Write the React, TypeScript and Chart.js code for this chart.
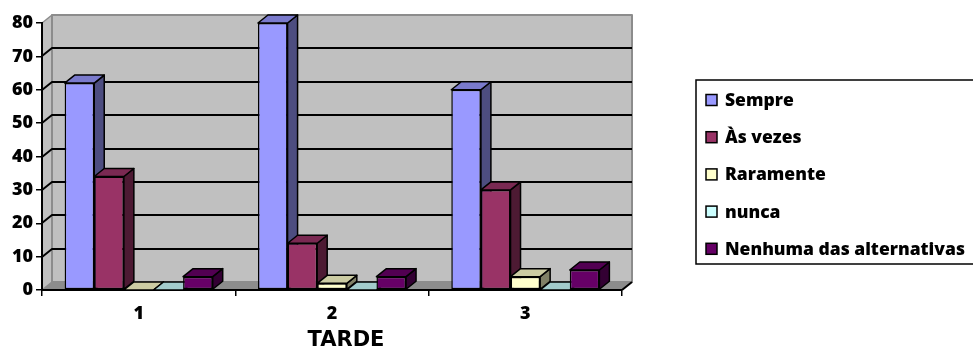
import React, { useEffect, useRef } from 'react';
import { Chart, registerables } from 'chart.js';

Chart.register(...registerables);

// Categories along the horizontal axis
const categories = ['1', '2', '3'];

// Series (percent of answers per group)
const seriesNames = ['Sempre', 'Às vezes', 'Raramente', 'nunca', 'Nenhuma das alternativas'];
const sempre = [62, 80, 60];
const asVezes = [34, 14, 30];
const raramente = [0, 2, 4];
const nunca = [0, 0, 0];
const nenhuma = [4, 4, 6];
const seriesColors = ['#9999FF', '#993366', '#FFFFCC', '#CCFFFF', '#660066'];

// Value axis
const yMin = 0;
const yMax = 80;
const yStep = 10;
const axisTitle = 'TARDE';

// Depth of the pseudo-3D box and columns
const DX = 10;
const DY = 8;

const LABEL_FONT = '"Open Sans", "Noto Sans", sans-serif';

function shade(hex: string, f: number): string {
  const n = parseInt(hex.slice(1), 16);
  const r = Math.round(((n >> 16) & 255) * f);
  const g = Math.round(((n >> 8) & 255) * f);
  const b = Math.round((n & 255) * f);
  return `rgb(${r},${g},${b})`;
}

function poly(ctx: CanvasRenderingContext2D, pts: number[][], fill: string | null, stroke: string | null, lw = 1.5) {
  ctx.beginPath();
  ctx.moveTo(pts[0][0], pts[0][1]);
  for (let i = 1; i < pts.length; i++) ctx.lineTo(pts[i][0], pts[i][1]);
  ctx.closePath();
  if (fill) {
    ctx.fillStyle = fill;
    ctx.fill();
  }
  if (stroke) {
    ctx.strokeStyle = stroke;
    ctx.lineWidth = lw;
    ctx.lineJoin = 'round';
    ctx.stroke();
  }
}

const boxPlugin = {
  id: 'box3d',
  beforeDraw(chart: any) {
    const { ctx, chartArea: a, scales } = chart;
    const y = scales.y;
    ctx.save();
    // back wall
    ctx.fillStyle = '#C0C0C0';
    ctx.fillRect(a.left + DX, a.top - DY, a.right - a.left, a.bottom - a.top);
    // left side wall
    poly(ctx, [[a.left, a.top], [a.left + DX, a.top - DY], [a.left + DX, a.bottom - DY], [a.left, a.bottom]], '#C0C0C0', '#8C8C8C', 1.5);
    // floor
    poly(ctx, [[a.left, a.bottom], [a.left + DX, a.bottom - DY], [a.right + DX, a.bottom - DY], [a.right, a.bottom]], '#8C8C8C', null);
    // back wall outline
    ctx.strokeStyle = '#8C8C8C';
    ctx.lineWidth = 2;
    ctx.strokeRect(a.left + DX, a.top - DY, a.right - a.left, a.bottom - a.top);
    // gridlines on the walls
    ctx.strokeStyle = '#000';
    ctx.lineWidth = 2;
    y.ticks.forEach((t: any) => {
      if (t.value <= yMin || t.value >= yMax) return;
      const py = Math.round(y.getPixelForValue(t.value));
      ctx.beginPath();
      ctx.moveTo(a.left, py);
      ctx.lineTo(a.left + DX, py - DY);
      ctx.lineTo(a.right + DX, py - DY);
      ctx.stroke();
    });
    // right edge of the floor
    ctx.beginPath();
    ctx.moveTo(a.right, a.bottom);
    ctx.lineTo(a.right + DX, a.bottom - DY);
    ctx.strokeStyle = '#000';
    ctx.lineWidth = 2;
    ctx.stroke();
    ctx.restore();
  },
  beforeDatasetsDraw(chart: any) {
    const ctx = chart.ctx;
    const n = chart.data.labels.length;
    ctx.save();
    for (let i = 0; i < n; i++) {
      chart.data.datasets.forEach((ds: any, d: number) => {
        const meta = chart.getDatasetMeta(d);
        if (meta.hidden) return;
        const bar = meta.data[i];
        const { x, y, base, width } = bar.getProps(['x', 'y', 'base', 'width'], true);
        const l = x - width / 2;
        const r = x + width / 2;
        const c = ds.backgroundColor as string;
        poly(ctx, [[r, y], [r + DX, y - DY], [r + DX, base - DY], [r, base]], shade(c, 0.5), '#000');
        poly(ctx, [[l, y], [l + DX, y - DY], [r + DX, y - DY], [r, y]], shade(c, 0.8), '#000');
        bar.draw(ctx, chart.chartArea);
      });
    }
    ctx.restore();
    return false;
  },
  afterDraw(chart: any) {
    const { ctx, chartArea: a } = chart;
    ctx.save();
    // axis title
    ctx.fillStyle = '#000';
    ctx.font = 'bold 21px "DejaVu Sans", sans-serif';
    ctx.textAlign = 'center';
    ctx.textBaseline = 'middle';
    ctx.fillText(axisTitle, (a.left + a.right) / 2 + 14, a.bottom + 51);
    // legend
    const lx = a.right + 74;
    const ly = 80;
    ctx.strokeStyle = '#000';
    ctx.lineWidth = 1.5;
    ctx.strokeRect(lx, ly, 300, 184);
    ctx.font = `800 17.5px ${LABEL_FONT}`;
    ctx.textAlign = 'left';
    chart.data.datasets.forEach((ds: any, i: number) => {
      const cy = ly + 20 + i * 37.2;
      ctx.fillStyle = ds.backgroundColor;
      ctx.fillRect(lx + 10, cy - 5.5, 11, 11);
      ctx.strokeStyle = '#000';
      ctx.lineWidth = 1.5;
      ctx.strokeRect(lx + 10, cy - 5.5, 11, 11);
      ctx.fillStyle = '#000';
      ctx.fillText(ds.label, lx + 29, cy + 1);
    });
    ctx.restore();
  },
};

export default function App() {
  const ref = useRef<HTMLCanvasElement | null>(null);

  useEffect(() => {
    if (!ref.current) return;
    const values = [sempre, asVezes, raramente, nunca, nenhuma];
    const tickFont = { family: LABEL_FONT, weight: 800, size: 18 };
    const chart = new Chart(ref.current, {
      type: 'bar',
      data: {
        labels: categories,
        datasets: seriesNames.map((name, i) => ({
          label: name,
          data: values[i],
          backgroundColor: seriesColors[i],
          borderColor: '#000',
          borderWidth: 1.5,
          borderSkipped: false,
          categoryPercentage: 0.766,
          barPercentage: 1,
        })),
      },
      options: {
        responsive: false,
        animation: false,
        layout: { padding: { top: 23, right: 351, left: 0, bottom: 0 } },
        plugins: { legend: { display: false }, tooltip: { enabled: false } },
        scales: {
          x: {
            grid: { display: true, drawOnChartArea: false, drawTicks: true, tickLength: 6, color: '#000', lineWidth: 1.5, offset: true },
            border: { display: true, color: '#000', width: 2 },
            ticks: { font: tickFont, color: '#000', padding: 7 },
            afterFit: (s: any) => { s.height = 61; },
          },
          y: {
            min: yMin,
            max: yMax,
            grid: { display: true, drawOnChartArea: false, drawTicks: true, tickLength: 6, color: '#000', lineWidth: 1.5 },
            border: { display: true, color: '#000', width: 2 },
            ticks: { stepSize: yStep, font: tickFont, color: '#000', padding: 3 },
            afterFit: (s: any) => { s.width = 42; },
          },
        },
      },
      plugins: [boxPlugin],
    });
    return () => chart.destroy();
  }, []);

  return (
    <div style={{ position: 'fixed', left: 0, top: 0, width: 973, height: 351, background: '#fff' }}>
      <canvas ref={ref} width={973} height={351} style={{ display: 'block' }} />
    </div>
  );
}
